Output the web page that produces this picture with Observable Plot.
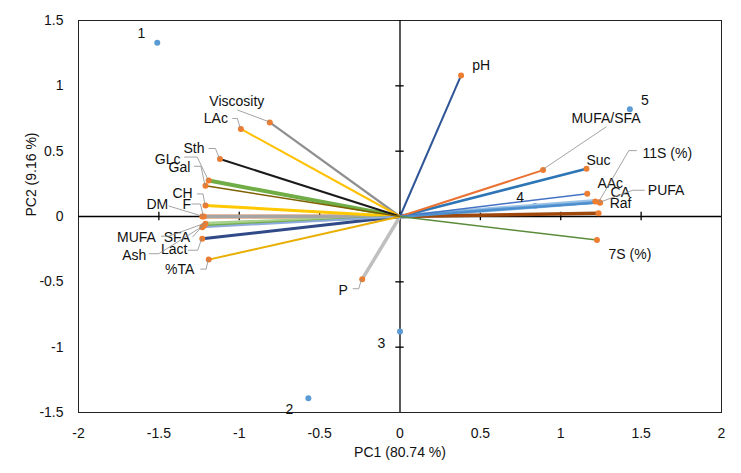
<!DOCTYPE html>
<html>
<head>
<meta charset="utf-8">
<script src="https://cdn.jsdelivr.net/npm/d3@7"></script>
<script src="https://cdn.jsdelivr.net/npm/@observablehq/plot@0.6"></script>
<style>
  html, body { margin: 0; padding: 0; background: #fff; }
</style>
</head>
<body>
<div id="chart"></div>
<script>
// ---- Data: sample scores ----
const scoreIds = ["1", "2", "3", "4", "5"];
const scorePC1 = [-1.51, -0.57, 0.0, 0.84, 1.43];
const scorePC2 = [1.33, -1.39, -0.88, 0.08, 0.82];

// ---- Data: variable loadings ----
const varNames = ["pH", "Viscosity", "LAc", "Sth", "GLc", "Gal", "CH", "DM", "F", "MUFA", "SFA", "Ash", "Lact", "%TA", "P",
                  "MUFA/SFA", "Suc", "AAc", "CA", "11S (%)", "PUFA", "Raf", "7S (%)"];
const varPC1 = [0.38, -0.81, -0.99, -1.12, -1.19, -1.21, -1.21, -1.23, -1.22, -1.21, -1.22, -1.23, -1.23, -1.19, -0.235,
                0.89, 1.16, 1.165, 1.215, 1.24, 1.245, 1.235, 1.225];
const varPC2 = [1.08, 0.72, 0.67, 0.44, 0.275, 0.235, 0.085, 0.0, 0.0, -0.055, -0.07, -0.082, -0.17, -0.33, -0.48,
                0.355, 0.365, 0.175, 0.115, 0.11, 0.105, 0.025, -0.18];

// ---- Axis ticks ----
const xTicks = [-2, -1.5, -1, -0.5, 0, 0.5, 1, 1.5, 2];
const yTicks = [-1.5, -1, -0.5, 0, 0.5, 1, 1.5];
const xTitle = "PC1 (80.74 %)";
const yTitle = "PC2 (9.16 %)";

// ---- Styles (kept apart from the data) ----
const varStyle = {
  "pH": ["#2F5597", 2], "Viscosity": ["#8f8f8f", 2.2], "LAc": ["#FFC000", 2], "Sth": ["#1a1a1a", 2],
  "GLc": ["#70AD47", 4], "Gal": ["#7F6000", 1.5], "CH": ["#FFC800", 3], "DM": ["#A5A5A5", 3.5],
  "F": ["#F08A4B", 4], "MUFA": ["#A9D18E", 4], "SFA": ["#70AD47", 2], "Ash": ["#8FAADC", 2],
  "Lact": ["#2F4A86", 3], "%TA": ["#E8AE00", 2], "P": ["#BFBFBF", 3.5],
  "MUFA/SFA": ["#E97132", 2], "Suc": ["#2E75B6", 2.5], "AAc": ["#4472C4", 1.5], "CA": ["#9DC3E6", 5],
  "11S (%)": ["#5B9BD5", 3], "PUFA": ["#4A8CCB", 1.5], "Raf": ["#9E480E", 3.5], "7S (%)": ["#5B8C3A", 1.5]
};
// label offsets in px relative to the point (label centre)
const varLabelOffset = {
  "pH": [20, -10], "Viscosity": [-33, -21], "LAc": [-25, -10], "Sth": [-26, -10], "GLc": [-41, -21],
  "Gal": [-26, -18], "CH": [-23, -12], "DM": [-45, -12], "F": [-17, -12], "MUFA": [-69, 14],
  "SFA": [-27, 12], "Ash": [-68, 28], "Lact": [-28, 11], "%TA": [-29, 10], "P": [-19, 11],
  "MUFA/SFA": [63, -52], "Suc": [12, -8], "AAc": [23, -10], "CA": [25, -9], "11S (%)": [68, -49],
  "PUFA": [66, -12], "Raf": [22, -10], "7S (%)": [33, 14]
};
const scoreLabelOffset = [[-16, -9], [-19, 11], [-18.5, 12], [-15, -9], [15, -9]];
// leader line paths in px relative to the point
const leaderPaths = {
  "Viscosity": [[-32, -12], [0, 0]],
  "LAc": [[-8, -10], [-3, -10], [0, 0]],
  "Sth": [[-11, -10], [-4, -10], [0, 0]],
  "GLc": [[-24, -23], [-11, -23], [0, 0]],
  "Gal": [[-11, -19], [-4, -19], [0, 0]],
  "CH": [[-8, -11], [-2, -11], [0, 0]],
  "F": [[-12, -12], [-3, -12], [0, 0]],
  "DM": [[-33, -10], [0, 0]],
  "MUFA": [[-44, 13], [-36, 13], [0, 0]],
  "SFA": [[-11, 12], [0, 0]],
  "Ash": [[-53, 27], [-43, 27], [0, 0]],
  "Lact": [[-14, 12], [-4, 12], [0, 0]],
  "%TA": [[-8, 10], [-2, 10], [0, 0]],
  "P": [[-9, 10], [-3, 10], [0, 0]],
  "MUFA/SFA": [[64, -43], [0, 0]],
  "11S (%)": [[38, -51], [30, -51], [0, 0]],
  "PUFA": [[45, -12], [33, -12], [0, 0]]
};

const varIdx = d3.range(varNames.length).sort((a, b) => varStyle[varNames[b]][1] - varStyle[varNames[a]][1]);
const scoreIdx = d3.range(scoreIds.length);

const labelMarks = varNames.map((n, i) => Plot.text([i], {
  x: j => varPC1[j], y: j => varPC2[j], text: j => varNames[j],
  dx: varLabelOffset[n][0], dy: varLabelOffset[n][1], fill: "#111", lineAnchor: "middle"
}));
const scoreLabelMarks = scoreIds.map((s, i) => Plot.text([i], {
  x: j => scorePC1[j], y: j => scorePC2[j], text: j => scoreIds[j],
  dx: scoreLabelOffset[i][0], dy: scoreLabelOffset[i][1], fill: "#111", lineAnchor: "middle"
}));

const plot = Plot.plot({
  width: 741,
  height: 473,
  marginLeft: 78,
  marginRight: 20,
  marginTop: 20,
  marginBottom: 61,
  style: { fontFamily: "'Liberation Sans', Arial, sans-serif", fontSize: "14px", background: "#fff", overflow: "visible" },
  x: { domain: [-2, 2], axis: null },
  y: { domain: [-1.5, 1.5], axis: null },
  color: { type: "identity" },
  marks: [
    Plot.frame({ stroke: "#222", strokeWidth: 1 }),
    Plot.ruleY([0], { stroke: "#000", strokeWidth: 1.3 }),
    Plot.ruleX([0], { stroke: "#000", strokeWidth: 1.3 }),
    Plot.ruleX(xTicks.filter(d => d > -2 && d < 2), { x: d => d, y1: -0.032, y2: 0.032, stroke: "#000", strokeWidth: 1.3 }),
    Plot.ruleY(yTicks.filter(d => d > -1.5 && d < 1.5), { y: d => d, x1: -0.026, x2: 0.026, stroke: "#000", strokeWidth: 1.3 }),
    Plot.dot(scoreIdx, { x: i => scorePC1[i], y: i => scorePC2[i], r: 3, fill: "#5B9BD5", stroke: null }),
    Plot.link(varIdx, {
      x1: () => 0, y1: () => 0, x2: i => varPC1[i], y2: i => varPC2[i],
      stroke: i => varStyle[varNames[i]][0], strokeWidth: i => varStyle[varNames[i]][1]
    }),
    Plot.dot(varIdx, { x: i => varPC1[i], y: i => varPC2[i], r: 3, fill: "#ED7D31", stroke: null }),
    ...labelMarks,
    ...scoreLabelMarks,
    Plot.text(xTicks, { x: d => d, frameAnchor: "bottom", dy: 21, text: d => String(d), fill: "#111", lineAnchor: "middle" }),
    Plot.text(yTicks, { y: d => d, frameAnchor: "left", dx: -15, text: d => String(d), fill: "#111", textAnchor: "end", lineAnchor: "middle" }),
    Plot.text([xTitle], { frameAnchor: "bottom", dy: 40, text: d => d, fill: "#111", lineAnchor: "middle" }),
    Plot.text([yTitle], { frameAnchor: "left", dx: -47, rotate: -90, text: d => d, fill: "#111", lineAnchor: "middle" })
  ]
});

// leader lines, positioned through Plot's own scales
const sx = plot.scale("x"), sy = plot.scale("y");
const g = d3.select(plot).append("g").attr("fill", "none").attr("stroke", "#8c8c8c").attr("stroke-width", 0.8);
for (const [name, pts] of Object.entries(leaderPaths)) {
  const i = varNames.indexOf(name);
  const px = sx.apply(varPC1[i]), py = sy.apply(varPC2[i]);
  g.append("polyline").attr("points", pts.map(([dx, dy]) => `${px + dx},${py + dy}`).join(" "));
}

document.getElementById("chart").appendChild(plot);
</script>
</body>
</html>
